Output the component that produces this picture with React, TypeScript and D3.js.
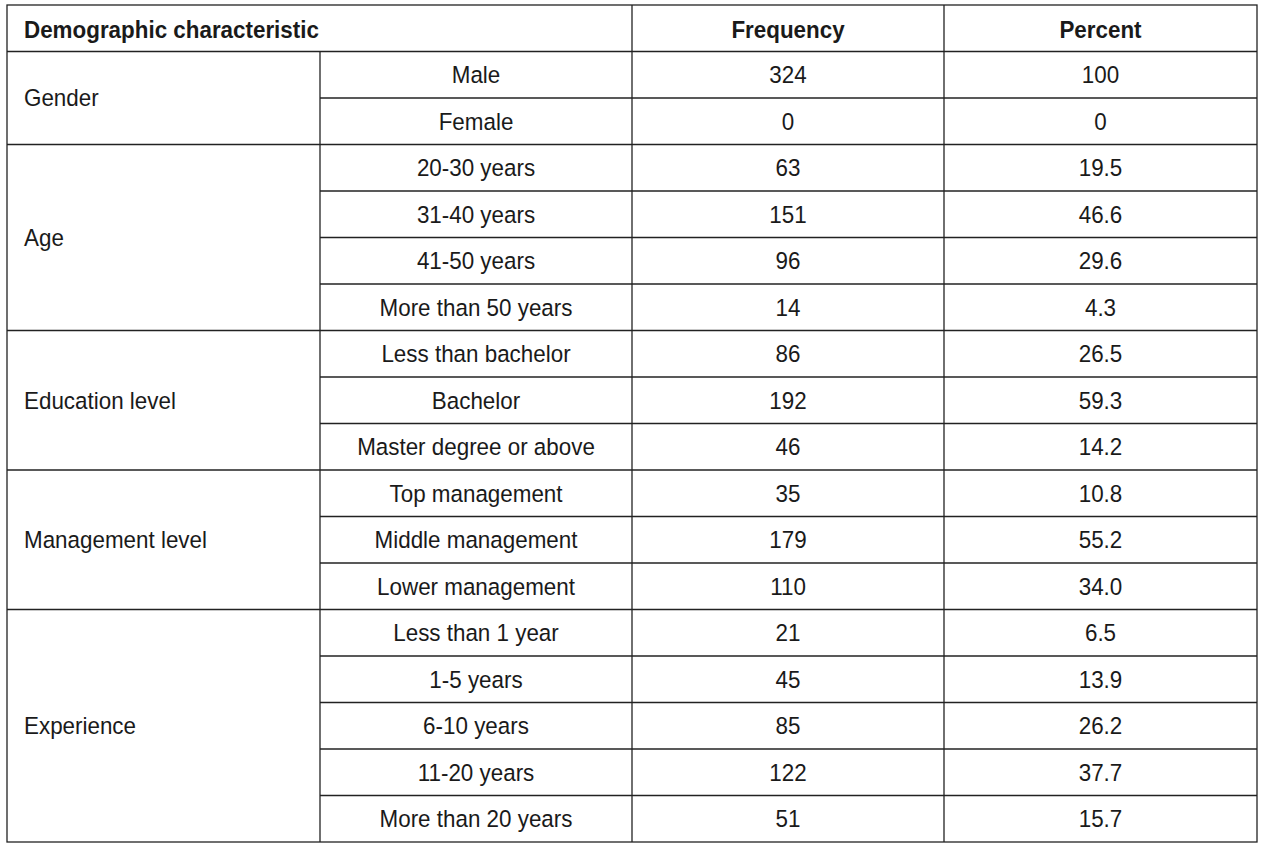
import React from "react";
import * as d3 from "d3";

const headers = ["Demographic characteristic", "Frequency", "Percent"];
const groups = ["Gender", "Age", "Education level", "Management level", "Experience"];
const groupSizes = [2, 4, 3, 3, 5];
const categories = [
  "Male", "Female",
  "20-30 years", "31-40 years", "41-50 years", "More than 50 years",
  "Less than bachelor", "Bachelor", "Master degree or above",
  "Top management", "Middle management", "Lower management",
  "Less than 1 year", "1-5 years", "6-10 years", "11-20 years", "More than 20 years",
];
const frequency = [324, 0, 63, 151, 96, 14, 86, 192, 46, 35, 179, 110, 21, 45, 85, 122, 51];
const percent = ["100", "0", "19.5", "46.6", "29.6", "4.3", "26.5", "59.3", "14.2", "10.8", "55.2", "34.0", "6.5", "13.9", "26.2", "37.7", "15.7"];

export default function App() {
  const W = 1265, H = 852;
  const left = 7, right = 1257, top = 5, bottom = 842;
  const nRows = categories.length + 1;
  const y = d3.scaleLinear().domain([0, nRows]).range([top, bottom]);
  const colEdges = [left, 320, 632, 944, right];
  const stroke = "#222";
  const font = "'Liberation Sans', Arial, sans-serif";
  const fs = 22.4;
  const sy = 1.07;

  const starts: number[] = [];
  let acc = 0;
  groupSizes.forEach((s) => { starts.push(acc); acc += s; });

  const lines: JSX.Element[] = [];
  lines.push(<rect key="outer" x={left} y={top} width={right - left} height={bottom - top} fill="none" stroke={stroke} strokeWidth={1.3} />);
  lines.push(<line key="hb" x1={left} x2={right} y1={y(1)} y2={y(1)} stroke={stroke} strokeWidth={1.3} />);
  lines.push(<line key="v1" x1={colEdges[1]} x2={colEdges[1]} y1={y(1)} y2={bottom} stroke={stroke} strokeWidth={1.3} />);
  lines.push(<line key="v2" x1={colEdges[2]} x2={colEdges[2]} y1={top} y2={bottom} stroke={stroke} strokeWidth={1.3} />);
  lines.push(<line key="v3" x1={colEdges[3]} x2={colEdges[3]} y1={top} y2={bottom} stroke={stroke} strokeWidth={1.3} />);
  for (let i = 1; i < categories.length; i++) {
    const isGroupStart = starts.includes(i);
    const x1 = isGroupStart ? left : colEdges[1];
    lines.push(<line key={"r" + i} x1={x1} x2={right} y1={y(i + 1)} y2={y(i + 1)} stroke={stroke} strokeWidth={1.3} />);
  }

  const mid = (a: number, b: number) => (a + b) / 2;
  const T = (x: number, yy: number, s: string | number, anchor: string, bold = false, key?: string) => (
    <text key={key} transform={`translate(${x},${yy}) scale(1,${sy})`} dy="0.35em" textAnchor={anchor} fontWeight={bold ? "bold" : "normal"}>{s}</text>
  );

  return (
    <svg width={W} height={H} style={{ position: "absolute", left: 0, top: 0, background: "#fff" }}>
      <rect x={0} y={0} width={W} height={H} fill="#fff" />
      {lines}
      <g fontFamily={font} fontSize={fs} fill="#1a1a1a">
        {T(24, mid(y(0), y(1)) + 1, headers[0], "start", true, "h0")}
        {T(mid(colEdges[2], colEdges[3]), mid(y(0), y(1)) + 1, headers[1], "middle", true, "h1")}
        {T(mid(colEdges[3], colEdges[4]), mid(y(0), y(1)) + 1, headers[2], "middle", true, "h2")}
        {groups.map((g, gi) => T(24, mid(y(starts[gi] + 1), y(starts[gi] + groupSizes[gi] + 1)), g, "start", false, "g" + gi))}
        {categories.map((c, i) => (
          <g key={c}>
            {T(mid(colEdges[1], colEdges[2]), mid(y(i + 1), y(i + 2)), c, "middle")}
            {T(mid(colEdges[2], colEdges[3]), mid(y(i + 1), y(i + 2)), frequency[i], "middle")}
            {T(mid(colEdges[3], colEdges[4]), mid(y(i + 1), y(i + 2)), percent[i], "middle")}
          </g>
        ))}
      </g>
    </svg>
  );
}
